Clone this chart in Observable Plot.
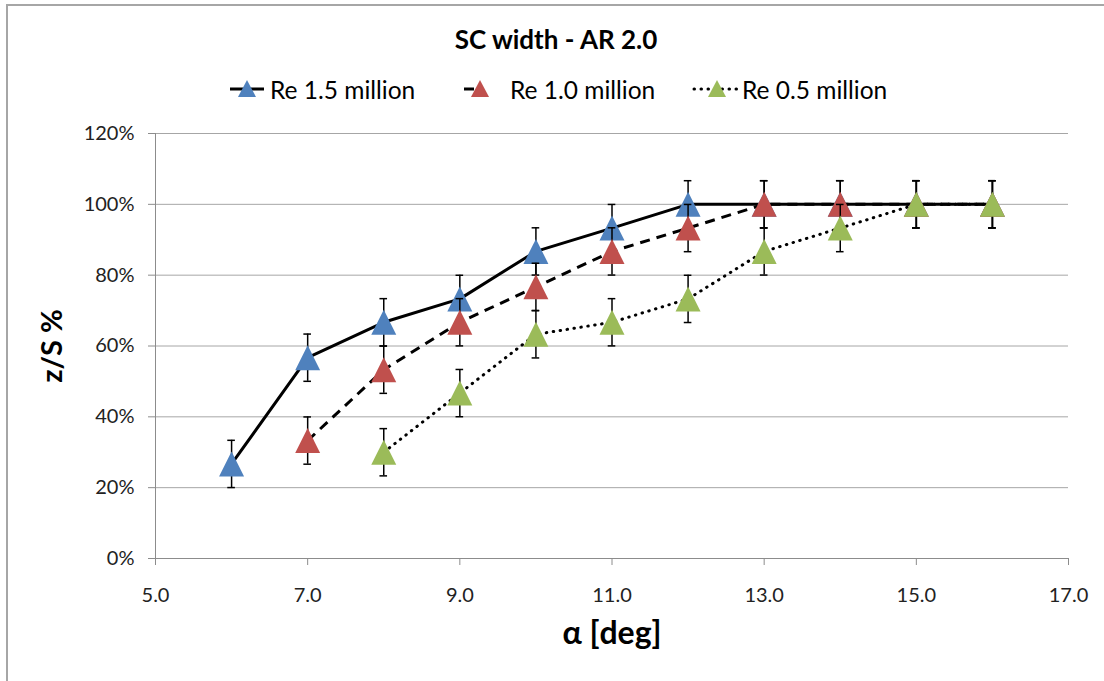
<!DOCTYPE html>
<html><head><meta charset="utf-8">
<script src="https://cdn.jsdelivr.net/npm/d3@7"></script>
<script src="https://cdn.jsdelivr.net/npm/@observablehq/plot@0.6"></script>
<style>
body{margin:0;background:#fff;font-family:Lato,"Open Sans",sans-serif;}
#wrap{position:relative;width:1104px;height:681px;overflow:hidden;background:#fff}
#frame{position:absolute;left:6px;top:4px;width:1300px;height:900px;border:2px solid #a6a6a6;box-sizing:border-box}
#title{position:absolute;top:23px;left:0;width:1112px;text-align:center;font-weight:bold;font-size:26px;line-height:32px;color:#000}
.leg{position:absolute;top:74px;height:30px;display:flex;align-items:center;font-size:24.5px;color:#000;white-space:nowrap}
#chart{position:absolute;left:0;top:110px}
</style></head>
<body><div id="wrap"><div id="frame"></div><div id="title">SC width - AR 2.0</div><div id="legend"></div><div id="chart"></div></div>
<script>
const seriesNames = ["Re 1.5 million", "Re 1.0 million", "Re 0.5 million"];
const seriesColors = ["#4F81BD", "#C0504D", "#9BBB59"];
const seriesDash = [null, "10,7", "0.5,6.5"];

const alphaRe15 = [6, 7, 8, 9, 10, 11, 12, 13, 14, 15, 16];
const zRe15 = [26.7, 56.7, 66.7, 73.3, 86.7, 93.3, 100, 100, 100, 100, 100];
const alphaRe10 = [7, 8, 9, 10, 11, 12, 13, 14, 15, 16];
const zRe10 = [33.3, 53.3, 66.7, 76.7, 86.7, 93.3, 100, 100, 100, 100];
const alphaRe05 = [8, 9, 10, 11, 12, 13, 14, 15, 16];
const zRe05 = [30.0, 46.7, 63.3, 66.7, 73.3, 86.7, 93.3, 100, 100];
const errPct = 6.67;

const xTicks = [5, 7, 9, 11, 13, 15, 17];
const yTicks = [0, 20, 40, 60, 80, 100, 120];

const seriesX = [alphaRe15, alphaRe10, alphaRe05];
const seriesY = [zRe15, zRe10, zRe05];
const tables = seriesX.map((xs, i) => xs.map((x, j) => ({x, y: seriesY[i][j], s: seriesNames[i]})));

// isoceles triangle, width = height, centred on its box
const tri = {draw(ctx, size) {
  const s = Math.sqrt(size) / 2;
  ctx.moveTo(0, -s); ctx.lineTo(s, s); ctx.lineTo(-s, s); ctx.closePath();
}};

const marks = [
  Plot.gridY(yTicks.filter(d => d > 0), {stroke: "#a6a6a6", strokeOpacity: 1}),
  Plot.ruleY([0], {stroke: "#8c8c8c"}),
  Plot.ruleX([5], {stroke: "#8c8c8c"}),
  Plot.axisY({ticks: yTicks, tickSize: 7, tickPadding: 14, tickFormat: d => d + "%", fontSize: 20, label: null, stroke: "#8c8c8c", fill: "#222"}),
  Plot.axisX({ticks: xTicks, tickSize: 7, tickPadding: 22, tickFormat: d3.format(".1f"), fontSize: 20, label: null, stroke: "#8c8c8c", fill: "#222"}),
  Plot.text(["α [deg]"], {text: d => d, frameAnchor: "bottom", dy: 85, fontSize: 32, fontWeight: "bold", fill: "#000"}),
  Plot.text(["z/S %"], {text: d => d, frameAnchor: "left", dx: -103, rotate: -90, textAnchor: "middle", fontSize: 29, fontWeight: "bold", fill: "#000"})
];
tables.forEach((rows, i) => {
  marks.push(
    Plot.line(rows, {x: "x", y: "y", stroke: "#000", strokeWidth: 3, strokeDasharray: seriesDash[i] || undefined, strokeLinecap: i === 2 ? "round" : "butt"}),
    Plot.ruleX(rows, {x: "x", y1: d => d.y - errPct, y2: d => d.y + errPct, stroke: "#000", strokeWidth: 1.5}),
    Plot.ruleY(rows, {y: d => d.y + errPct, x1: d => d.x - 0.05, x2: d => d.x + 0.05, stroke: "#000", strokeWidth: 1.5}),
    Plot.ruleY(rows, {y: d => d.y - errPct, x1: d => d.x - 0.05, x2: d => d.x + 0.05, stroke: "#000", strokeWidth: 1.5}),
    Plot.dot(rows, {x: "x", y: "y", symbol: tri, r: 14.1, fill: seriesColors[i], stroke: "none"})
  );
});

const chart = Plot.plot({
  width: 1104, height: 571,
  marginLeft: 155, marginRight: 36, marginTop: 23, marginBottom: 123,
  x: {domain: [5, 17]},
  y: {domain: [0, 120]},
  style: {fontFamily: "Lato, 'Open Sans', sans-serif", color: "#222", background: "transparent", overflow: "visible"},
  marks
});
document.getElementById("chart").appendChild(chart);

// legend
const legLeft = [228, 462, 692];
const legSampleW = [38, 36, 50];
const legGap = [4, 12, 0];
const leg = document.getElementById("legend");
seriesNames.forEach((name, i) => {
  const w = legSampleW[i];
  const div = document.createElement("div");
  div.className = "leg";
  div.style.left = legLeft[i] + "px";
  const dash = seriesDash[i] ? `stroke-dasharray="${seriesDash[i]}"` : "";
  const cap = i === 2 ? "round" : "butt";
  const lineX2 = i === 1 ? w / 2 : w - 2;
  div.innerHTML = `<svg width="${w}" height="24" style="margin-right:${legGap[i]}px"><line x1="2" x2="${lineX2}" y1="12" y2="12" stroke="#000" stroke-width="3" ${dash} stroke-linecap="${cap}"/>` +
    `<path d="M${w / 2},3 L${w / 2 + 9},20 L${w / 2 - 9},20 Z" fill="${seriesColors[i]}"/></svg><span>${name}</span>`;
  leg.appendChild(div);
});
</script></body></html>
